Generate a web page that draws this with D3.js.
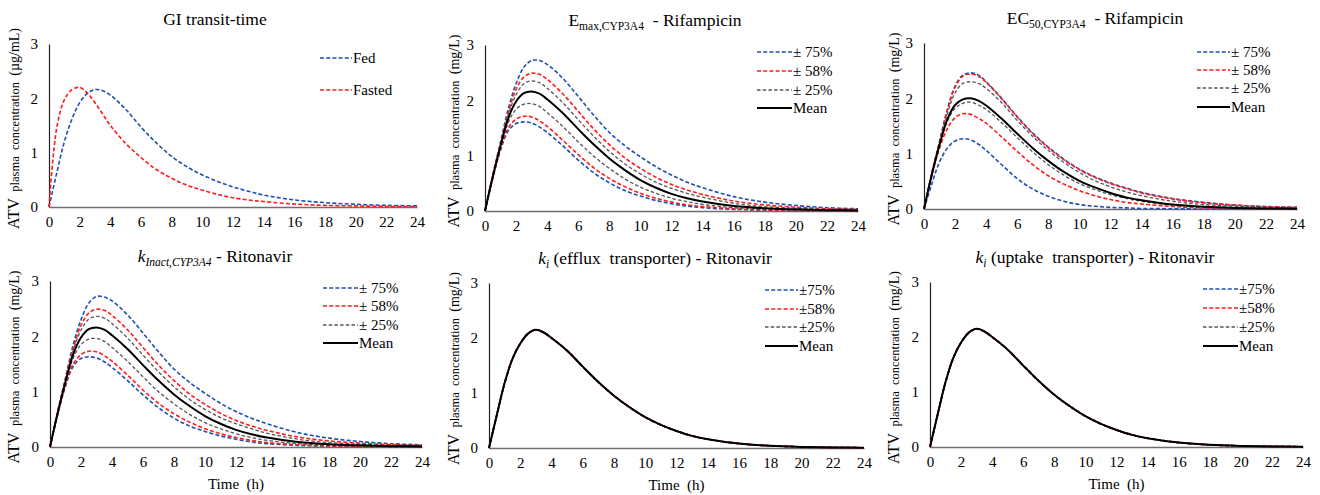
<!DOCTYPE html>
<html>
<head>
<meta charset="utf-8">
<script src="https://cdn.jsdelivr.net/npm/d3@7"></script>
<style>
  body { margin: 0; background: #fff; }
  svg, svg text { font-family: "Liberation Serif", serif; fill: #000; }
</style>
</head>
<body>
<div id="chart"></div>
<script>
// Time points (h)
var hours = [0, 0.5, 1, 1.5, 2, 2.5, 3, 3.5, 4, 5, 6, 7, 8, 9, 10, 11, 12, 13, 14, 16, 18, 20, 22, 24];
var xTicks = [0, 2, 4, 6, 8, 10, 12, 14, 16, 18, 20, 22, 24];
var yTicks = [0, 1, 2, 3];

// GI transit-time
var gitFed    = [0, 0.62, 1.2, 1.62, 1.92, 2.09, 2.16, 2.14, 2.06, 1.8, 1.47, 1.18, 0.93, 0.74, 0.59, 0.47, 0.37, 0.29, 0.22, 0.13, 0.08, 0.05, 0.03, 0.02];
var gitFasted = [0, 1.45, 1.97, 2.16, 2.2, 2.1, 1.92, 1.71, 1.5, 1.17, 0.91, 0.69, 0.53, 0.4, 0.31, 0.23, 0.17, 0.13, 0.1, 0.055, 0.03, 0.02, 0.01, 0.01];

// Emax,CYP3A4 - Rifampicin
var emaxUp75 = [0, 0.65, 1.25, 1.85, 2.3, 2.6, 2.72, 2.72, 2.65, 2.4, 2.07, 1.73, 1.42, 1.18, 0.98, 0.8, 0.65, 0.52, 0.42, 0.26, 0.16, 0.1, 0.06, 0.04];
var emaxUp58 = [0, 0.64, 1.22, 1.78, 2.2, 2.42, 2.49, 2.47, 2.38, 2.12, 1.8, 1.48, 1.2, 0.96, 0.77, 0.61, 0.48, 0.38, 0.3, 0.18, 0.11, 0.07, 0.04, 0.03];
var emaxUp25 = [0, 0.63, 1.2, 1.74, 2.1, 2.3, 2.35, 2.32, 2.22, 1.96, 1.65, 1.35, 1.08, 0.85, 0.67, 0.52, 0.41, 0.32, 0.25, 0.14, 0.08, 0.05, 0.03, 0.02];
var emaxMean = [0, 0.62, 1.18, 1.68, 1.98, 2.13, 2.16, 2.12, 2.02, 1.77, 1.48, 1.2, 0.95, 0.74, 0.56, 0.42, 0.31, 0.23, 0.17, 0.09, 0.05, 0.03, 0.015, 0.01];
var emaxLo25 = [0, 0.61, 1.15, 1.6, 1.84, 1.93, 1.94, 1.89, 1.78, 1.53, 1.25, 0.99, 0.77, 0.58, 0.43, 0.32, 0.23, 0.17, 0.12, 0.06, 0.03, 0.015, 0.01, 0.005];
var emaxLo58 = [0, 0.6, 1.12, 1.5, 1.66, 1.71, 1.7, 1.63, 1.53, 1.28, 1.02, 0.78, 0.59, 0.44, 0.32, 0.23, 0.16, 0.11, 0.08, 0.04, 0.02, 0.01, 0.005, 0];
var emaxLo75 = [0, 0.59, 1.1, 1.45, 1.58, 1.61, 1.59, 1.52, 1.42, 1.18, 0.92, 0.69, 0.51, 0.37, 0.27, 0.19, 0.13, 0.09, 0.06, 0.03, 0.015, 0.007, 0.003, 0];

// EC50,CYP3A4 - Rifampicin
var ec50Up75 = [0, 0.64, 1.22, 1.8, 2.22, 2.42, 2.46, 2.42, 2.3, 2.0, 1.67, 1.37, 1.12, 0.9, 0.72, 0.58, 0.47, 0.38, 0.3, 0.19, 0.12, 0.07, 0.045, 0.03];
var ec50Up58 = [0, 0.64, 1.21, 1.78, 2.2, 2.4, 2.44, 2.4, 2.29, 1.99, 1.66, 1.36, 1.11, 0.89, 0.71, 0.57, 0.46, 0.37, 0.29, 0.18, 0.11, 0.07, 0.04, 0.03];
var ec50Up25 = [0, 0.63, 1.2, 1.72, 2.1, 2.27, 2.3, 2.27, 2.18, 1.92, 1.6, 1.31, 1.06, 0.84, 0.66, 0.51, 0.4, 0.31, 0.24, 0.14, 0.08, 0.05, 0.03, 0.02];
var ec50Mean = [0, 0.62, 1.16, 1.62, 1.88, 1.98, 2.0, 1.96, 1.87, 1.63, 1.36, 1.1, 0.87, 0.67, 0.51, 0.39, 0.29, 0.21, 0.16, 0.08, 0.04, 0.02, 0.01, 0.005];
var ec50Lo25 = [0, 0.61, 1.15, 1.58, 1.82, 1.91, 1.93, 1.88, 1.8, 1.56, 1.29, 1.03, 0.8, 0.61, 0.46, 0.35, 0.26, 0.19, 0.14, 0.07, 0.04, 0.02, 0.01, 0.005];
var ec50Lo58 = [0, 0.6, 1.1, 1.45, 1.65, 1.72, 1.71, 1.64, 1.55, 1.3, 1.04, 0.8, 0.6, 0.45, 0.33, 0.24, 0.17, 0.12, 0.09, 0.045, 0.02, 0.01, 0.005, 0];
var ec50Lo75 = [0, 0.45, 0.85, 1.1, 1.23, 1.27, 1.25, 1.17, 1.06, 0.8, 0.55, 0.36, 0.23, 0.14, 0.08, 0.05, 0.03, 0.02, 0.01, 0.005, 0, 0, 0, 0];

// kInact,CYP3A4 - Ritonavir
var kinUp75 = [0, 0.65, 1.25, 1.85, 2.3, 2.6, 2.72, 2.71, 2.64, 2.39, 2.06, 1.72, 1.41, 1.17, 0.97, 0.79, 0.64, 0.52, 0.42, 0.26, 0.16, 0.1, 0.06, 0.04];
var kinUp58 = [0, 0.64, 1.22, 1.78, 2.2, 2.42, 2.49, 2.47, 2.38, 2.12, 1.8, 1.48, 1.2, 0.96, 0.77, 0.61, 0.48, 0.38, 0.3, 0.18, 0.11, 0.07, 0.04, 0.03];
var kinUp25 = [0, 0.63, 1.2, 1.74, 2.11, 2.31, 2.36, 2.33, 2.23, 1.97, 1.66, 1.36, 1.09, 0.86, 0.68, 0.53, 0.42, 0.33, 0.25, 0.14, 0.08, 0.05, 0.03, 0.02];
var kinMean = [0, 0.62, 1.18, 1.68, 1.98, 2.13, 2.16, 2.12, 2.02, 1.77, 1.48, 1.2, 0.95, 0.74, 0.56, 0.42, 0.31, 0.23, 0.17, 0.09, 0.05, 0.03, 0.015, 0.01];
var kinLo25 = [0, 0.61, 1.15, 1.61, 1.85, 1.95, 1.96, 1.91, 1.8, 1.55, 1.27, 1.0, 0.78, 0.59, 0.44, 0.33, 0.24, 0.17, 0.12, 0.06, 0.03, 0.015, 0.01, 0.005];
var kinLo58 = [0, 0.6, 1.12, 1.5, 1.67, 1.73, 1.72, 1.65, 1.55, 1.3, 1.03, 0.79, 0.6, 0.45, 0.33, 0.24, 0.17, 0.12, 0.08, 0.04, 0.02, 0.01, 0.005, 0];
var kinLo75 = [0, 0.59, 1.1, 1.46, 1.6, 1.63, 1.61, 1.54, 1.44, 1.2, 0.94, 0.71, 0.52, 0.38, 0.28, 0.2, 0.14, 0.09, 0.06, 0.03, 0.015, 0.007, 0.003, 0];

// ki (efflux transporter) - Ritonavir: all sensitivity runs overlap the mean
var effluxMean = [0, 0.6, 1.18, 1.62, 1.9, 2.08, 2.15, 2.1, 2.0, 1.77, 1.48, 1.2, 0.95, 0.74, 0.56, 0.42, 0.31, 0.22, 0.16, 0.08, 0.04, 0.02, 0.01, 0.005];
// ki (uptake transporter) - Ritonavir
var uptakeMean = [0, 0.6, 1.18, 1.62, 1.9, 2.08, 2.15, 2.1, 2.0, 1.77, 1.48, 1.2, 0.95, 0.74, 0.56, 0.42, 0.31, 0.22, 0.16, 0.08, 0.04, 0.02, 0.01, 0.005];

// Line styles
var styles = {
    blue:  { color: "#1f4fb0", width: 1.6, dash: "4,2.2" },
    red:   { color: "#ff1a1a", width: 1.6, dash: "4,2.2" },
    gray:  { color: "#555555", width: 1.3, dash: "3.5,2.2" },
    mean:  { color: "#000000", width: 2, dash: null }
};

var width = 1320, height = 495;
var serif = "Liberation Serif";

var svg = d3.select("#chart")
    .append("svg")
    .attr("width", width)
    .attr("height", height)
    .attr("font-family", serif);

var sensSeries = function (u75, u58, u25, mean, l25, l58, l75) {
    return [
        { values: u75, style: "blue" }, { values: l75, style: "blue" },
        { values: u58, style: "red" },  { values: l58, style: "red" },
        { values: u25, style: "gray" }, { values: l25, style: "gray" },
        { values: mean, style: "mean" }
    ];
};

var sensLegend = function (sep) {
    return [
        { label: "±" + sep + "75%", style: "blue" },
        { label: "±" + sep + "58%", style: "red" },
        { label: "±" + sep + "25%", style: "gray" },
        { label: "Mean", style: "mean" }
    ];
};

// Panel layout
var panels = [
    { ox: 0, x0: 49, x1: 417, yTop: 44, yBot: 207, unit: "(µg/mL)", title: "git",
      series: [{ values: gitFed, style: "blue" }, { values: gitFasted, style: "red" }],
      legend: [{ label: "Fed", style: "blue" }, { label: "Fasted", style: "red" }],
      legX: 320, legLen: 32, legY: [58, 90], timeLabel: false },
    { ox: 440, x0: 485, x1: 858, yTop: 45, yBot: 211, unit: "(mg/L)", title: "emax",
      series: sensSeries(emaxUp75, emaxUp58, emaxUp25, emaxMean, emaxLo25, emaxLo58, emaxLo75),
      legend: sensLegend(" "), legX: 757, legLen: 35, legY: [52, 71, 90, 108], timeLabel: false },
    { ox: 880, x0: 924, x1: 1297, yTop: 43, yBot: 209, unit: "(mg/L)", title: "ec50",
      series: sensSeries(ec50Up75, ec50Up58, ec50Up25, ec50Mean, ec50Lo25, ec50Lo58, ec50Lo75),
      legend: sensLegend(" "), legX: 1197, legLen: 33, legY: [52, 70, 88, 107], timeLabel: false },
    { ox: 0, x0: 50, x1: 422, yTop: 281, yBot: 447, unit: "(mg/L)", title: "kinact",
      series: sensSeries(kinUp75, kinUp58, kinUp25, kinMean, kinLo25, kinLo58, kinLo75),
      legend: sensLegend(" "), legX: 323, legLen: 35, legY: [288, 306, 325, 343], timeLabel: true },
    { ox: 440, x0: 489, x1: 864, yTop: 283, yBot: 448, unit: "(mg/L)", title: "efflux",
      series: sensSeries(effluxMean, effluxMean, effluxMean, effluxMean, effluxMean, effluxMean, effluxMean),
      legend: sensLegend(""), legX: 765, legLen: 33, legY: [290, 309, 327, 346], timeLabel: true },
    { ox: 880, x0: 930, x1: 1303, yTop: 282, yBot: 447, unit: "(mg/L)", title: "uptake",
      series: sensSeries(uptakeMean, uptakeMean, uptakeMean, uptakeMean, uptakeMean, uptakeMean, uptakeMean),
      legend: sensLegend(""), legX: 1203, legLen: 35, legY: [289, 308, 327, 346], timeLabel: true }
];

// Titles with sub/italic parts
function drawTitle(g, kind, cx, y) {
    var t = g.append("text").attr("x", cx).attr("y", y)
        .attr("text-anchor", "middle")
        .attr("xml:space", "preserve")
        .style("font-family", serif)
        .style("font-size", "17.5px");
    if (kind === "git") {
        t.text("GI transit-time");
    } else if (kind === "emax" || kind === "ec50") {
        t.append("tspan").text(kind === "emax" ? "E" : "EC");
        t.append("tspan").attr("dy", 4).style("font-size", "11.5px")
            .text(kind === "emax" ? "max,CYP3A4" : "50,CYP3A4");
        t.append("tspan").attr("dy", -4).text("  - Rifampicin");
    } else if (kind === "kinact") {
        t.append("tspan").style("font-style", "italic").text("k");
        t.append("tspan").attr("dy", 4).style("font-size", "11.5px")
            .style("font-style", "italic").text("Inact,CYP3A4");
        t.append("tspan").attr("dy", -4).text(" - Ritonavir");
    } else {
        t.append("tspan").style("font-style", "italic").text("k");
        t.append("tspan").attr("dy", 4).style("font-size", "11.5px")
            .style("font-style", "italic").text("i");
        t.append("tspan").attr("dy", -4)
            .text(kind === "efflux" ? " (efflux  transporter) - Ritonavir" : " (uptake  transporter) - Ritonavir");
    }
}

panels.forEach(function (p) {
    var g = svg.append("g");

    var xScale = d3.scaleLinear().domain([0, 24]).range([p.x0, p.x1]);
    var yScale = d3.scaleLinear().domain([0, 3]).range([p.yBot, p.yTop]);

    // Axes (no tick marks)
    var xAxis = d3.axisBottom(xScale).tickValues(xTicks).tickFormat(d3.format("d"))
        .tickSize(0).tickPadding(9);
    var yAxis = d3.axisLeft(yScale).tickValues(yTicks).tickFormat(d3.format("d"))
        .tickSize(0).tickPadding(11);

    var gx = g.append("g").attr("transform", "translate(0," + p.yBot + ")").call(xAxis)
        .attr("font-family", serif);
    gx.select(".domain").attr("stroke", "#6e6e6e").attr("stroke-width", 1.6);
    gx.selectAll("text").style("font-size", "15px").style("font-family", serif);

    var gy = g.append("g").attr("transform", "translate(" + p.x0 + ",0)").call(yAxis)
        .attr("font-family", serif);
    gy.select(".domain").attr("stroke", "#222").attr("stroke-width", 1.2);
    gy.selectAll("text").style("font-size", "15px").style("font-family", serif);

    // Lines
    var line = d3.line()
        .x(function (d, i) { return xScale(hours[i]); })
        .y(function (d) { return yScale(d); })
        .curve(d3.curveCatmullRom.alpha(0.5));

    p.series.forEach(function (s) {
        var st = styles[s.style];
        g.append("path")
            .datum(s.values)
            .attr("fill", "none")
            .attr("stroke", st.color)
            .attr("stroke-width", st.width)
            .attr("stroke-dasharray", st.dash)
            .attr("d", line);
    });

    // Legend
    p.legend.forEach(function (l, i) {
        var st = styles[l.style];
        var ly = p.legY[i];
        g.append("line")
            .attr("x1", p.legX).attr("x2", p.legX + p.legLen)
            .attr("y1", ly).attr("y2", ly)
            .attr("stroke", st.color)
            .attr("stroke-width", st.width)
            .attr("stroke-dasharray", st.dash);
        g.append("text")
            .attr("x", p.legX + p.legLen + 1)
            .attr("y", ly + 5)
            .style("font-family", serif)
            .style("font-size", "15px")
            .text(l.label);
    });

    // Title
    drawTitle(g, p.title, p.ox + 215, p.yTop - 19);

    // Y axis label
    var cy = (p.yTop + p.yBot) / 2 + 3;
    var yl = g.append("text")
        .attr("transform", "translate(" + (p.ox + 19) + "," + cy + ") rotate(-90)")
        .attr("text-anchor", "middle")
        .attr("xml:space", "preserve")
        .style("font-family", serif);
    yl.append("tspan").style("font-size", "16px").text("ATV");
    yl.append("tspan").style("font-size", "12.5px").text("  plasma  concentration  ");
    yl.append("tspan").style("font-size", "14px").text(p.unit);

    // X axis label
    if (p.timeLabel) {
        g.append("text")
            .attr("x", (p.x0 + p.x1) / 2)
            .attr("y", p.yBot + 42)
            .attr("text-anchor", "middle")
            .attr("xml:space", "preserve")
            .style("font-family", serif)
            .style("font-size", "15px")
            .text("Time  (h)");
    }
});
</script>
</body>
</html>
